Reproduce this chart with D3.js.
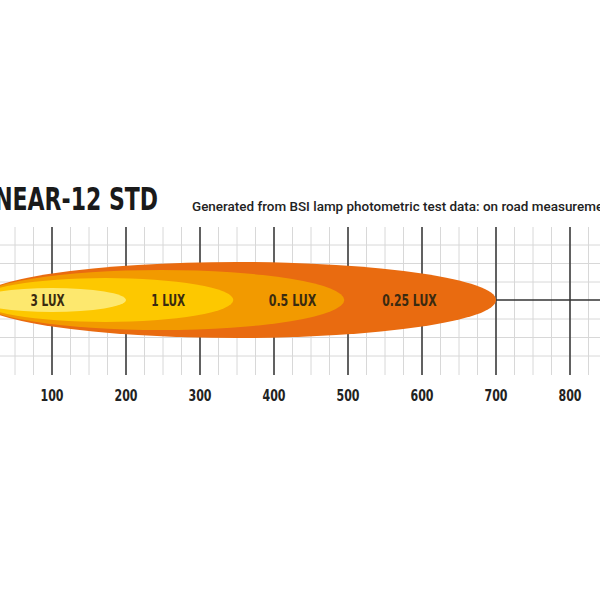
<!DOCTYPE html>
<html><head><meta charset="utf-8">
<script src="https://cdn.jsdelivr.net/npm/d3@7"></script>
<style>body{margin:0;background:#fff}</style></head>
<body><svg id="c" width="600" height="600"></svg>
<script>
const title = "LINEAR-12 STD";
const subtitle = "Generated from BSI lamp photometric test data: on road measurements";
const tickValues = [100,200,300,400,500,600,700,800];
const beamLabels = ["0.25 LUX","0.5 LUX","1 LUX","3 LUX"];
const beamReach = [700, 495, 345, 200];      // metres
const beamHalfWidth = [38, 30, 22, 12];
const beamLabelPos = [583, 425, 257, 94];
const beamColors = ["#e96b10","#f29a00","#fdc800","#fde86e"];

const svg = d3.select("#c");
const x = d3.scaleLinear().domain([0,100]).range([-22,52]);
const yc = 300, gTop = 227, gBot = 375;
const cond = "'DejaVu Sans', sans-serif";

const minorX = d3.range(-25, 850, 25);
svg.selectAll(".vm").data(minorX).join("line")
  .attr("x1",d=>x(d)).attr("x2",d=>x(d)).attr("y1",gTop).attr("y2",gBot)
  .attr("stroke","#d8d8d8").attr("stroke-width",1);
const hy = [245,263.5,282,319,337.5,356];
svg.selectAll(".hm").data(hy).join("line")
  .attr("x1",0).attr("x2",600).attr("y1",d=>d).attr("y2",d=>d)
  .attr("stroke","#d8d8d8").attr("stroke-width",1);
svg.selectAll(".vM").data(tickValues).join("line")
  .attr("x1",d=>x(d)).attr("x2",d=>x(d)).attr("y1",gTop).attr("y2",gBot)
  .attr("stroke","#333").attr("stroke-width",1.5);
svg.append("line").attr("x1",x(700)).attr("x2",600).attr("y1",yc).attr("y2",yc)
  .attr("stroke","#333").attr("stroke-width",1.5);

beamReach.forEach((r,i)=>{
  svg.append("ellipse")
    .attr("cx",(x(0)+x(r))/2).attr("cy",yc)
    .attr("rx",(x(r)-x(0))/2).attr("ry",beamHalfWidth[i])
    .attr("fill",beamColors[i]);
});
svg.selectAll(".bl").data(beamLabels).join("text")
  .attr("x",(d,i)=>x(beamLabelPos[i])).attr("y",yc+6)
  .attr("text-anchor","middle")
  .attr("font-family",cond).attr("font-weight","bold").attr("font-size",16).attr("fill","#3a2a10")
  .attr("textLength",d=>d.length*6.8).attr("lengthAdjust","spacingAndGlyphs")
  .text(d=>d);

svg.selectAll(".tk").data(tickValues).join("text")
  .attr("x",d=>x(d)).attr("y",401).attr("text-anchor","middle")
  .attr("font-family",cond).attr("font-weight","bold").attr("font-size",16).attr("fill","#222")
  .attr("textLength",23).attr("lengthAdjust","spacingAndGlyphs").text(d=>d);

svg.append("text").attr("x",-28).attr("y",210)
  .attr("font-family",cond).attr("font-weight","bold").attr("font-size",32).attr("fill","#1a1a1a")
  .attr("textLength",186).attr("lengthAdjust","spacingAndGlyphs").text(title);
svg.append("text").attr("x",192).attr("y",211)
  .attr("font-family","Roboto, sans-serif").attr("font-weight",500)
  .attr("font-size",13).attr("fill","#222")
  .attr("textLength",430).attr("lengthAdjust","spacingAndGlyphs").text(subtitle);
</script></body></html>
